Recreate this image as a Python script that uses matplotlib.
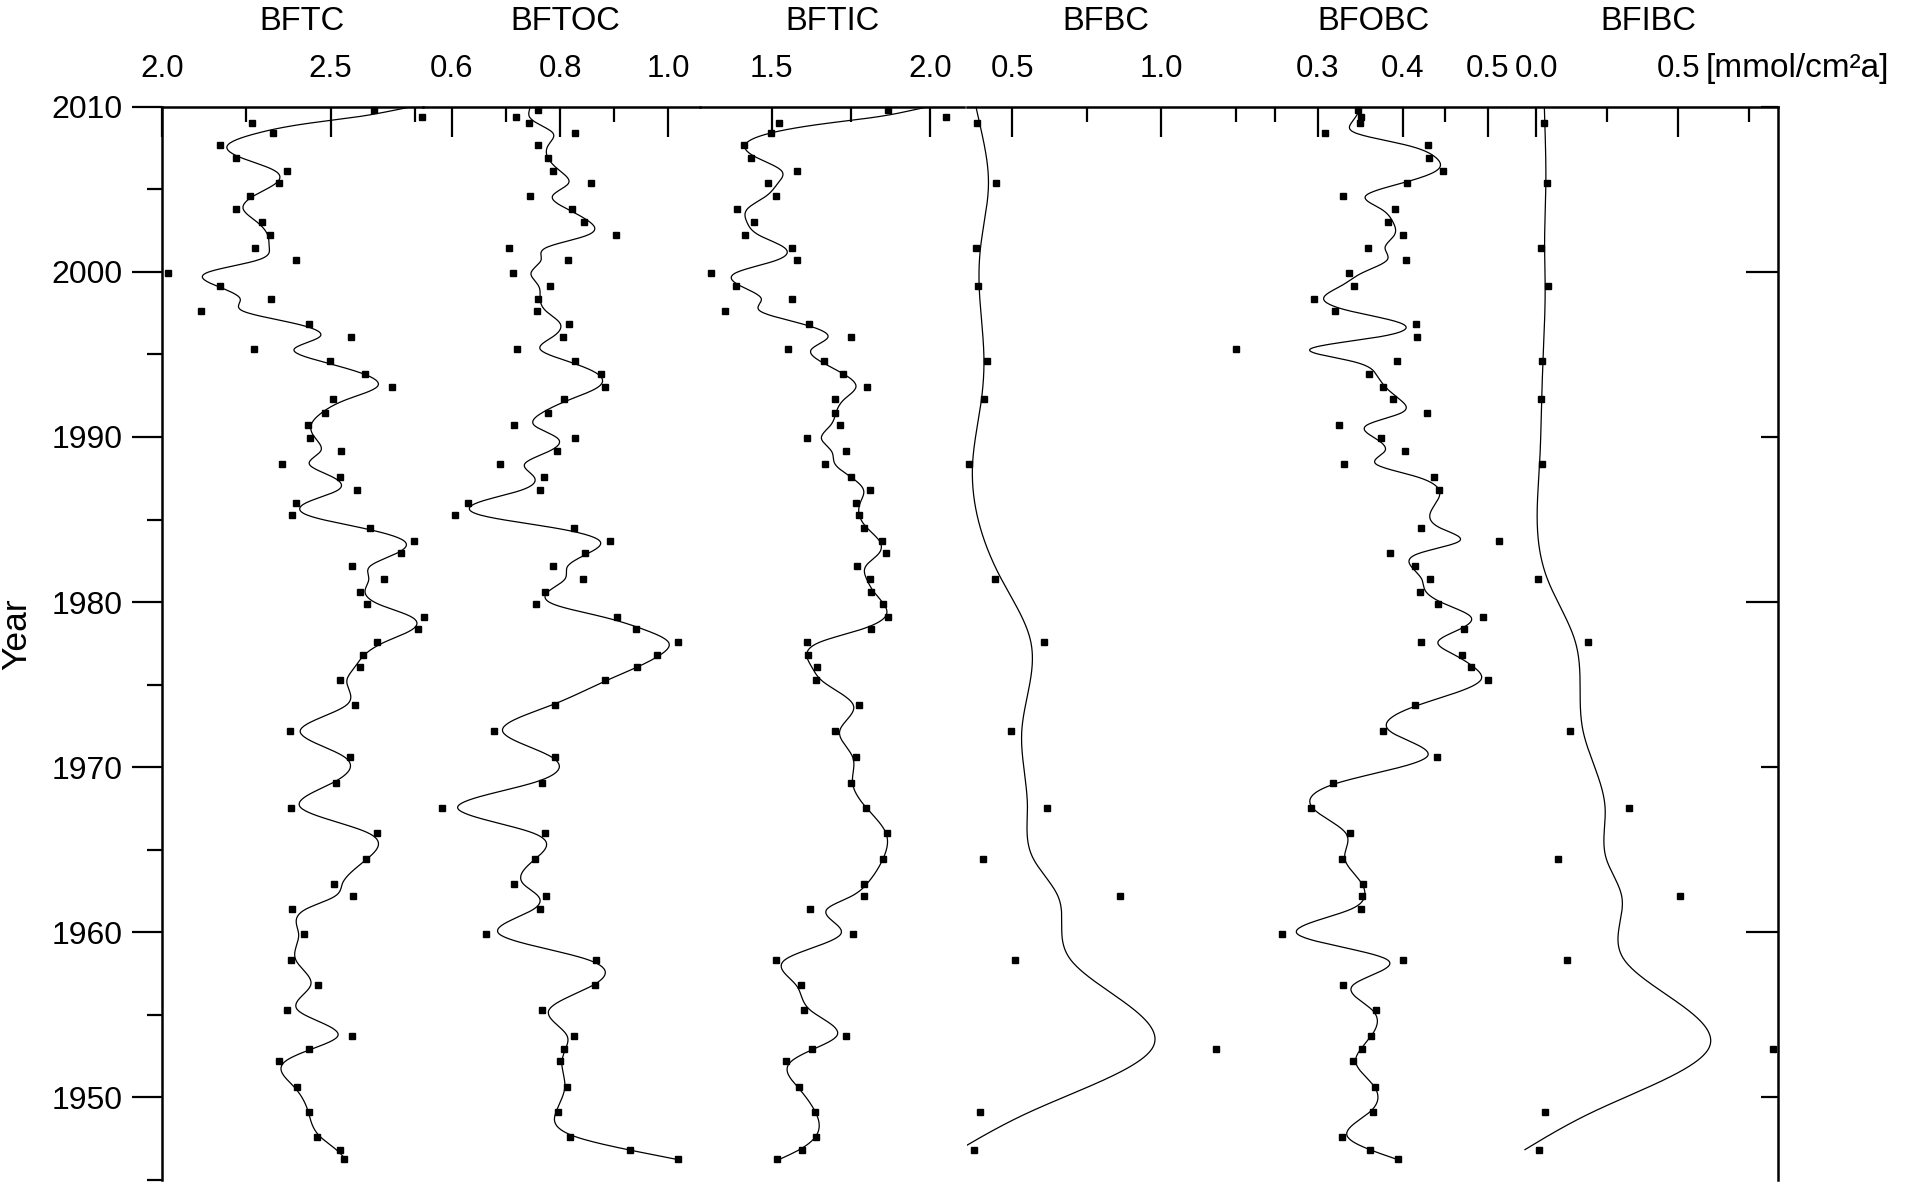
import matplotlib
matplotlib.use("Agg")
import matplotlib.pyplot as plt
import numpy as np
from matplotlib.ticker import MultipleLocator, FuncFormatter

plt.rcParams["font.family"] = ["Liberation Sans", "DejaVu Sans"]

# sample years (common to the dense series)
YEAR = np.array([
    2009.80, 2009.37, 2008.99, 2008.42, 2007.66, 2006.91, 2006.12, 2005.35, 2004.59, 2003.82,
    2003.03, 2002.22, 2001.47, 2000.71, 1999.94, 1999.17, 1998.38, 1997.64, 1996.87, 1996.06,
    1995.31, 1994.59, 1993.80, 1993.01, 1992.27, 1991.47, 1990.71, 1989.92, 1989.13, 1988.36,
    1987.60, 1986.79, 1986.02, 1985.25, 1984.48, 1983.70, 1982.95, 1982.18, 1981.39, 1980.63,
    1979.86, 1979.11, 1978.34, 1977.58, 1976.81, 1976.04, 1975.27, 1973.74, 1972.20, 1970.63,
    1969.07, 1967.55, 1966.00, 1964.47, 1962.94, 1962.17, 1961.41, 1959.88, 1958.35, 1956.82,
    1955.29, 1953.72, 1952.96, 1952.19, 1950.66, 1949.13, 1947.61, 1946.84, 1946.26])

BFTC = np.array([
    2.630, 2.772, 2.268, 2.328, 2.171, 2.218, 2.371, 2.346, 2.261, 2.218,
    2.296, 2.321, 2.275, 2.397, 2.017, 2.171, 2.324, 2.115, 2.436, 2.560,
    2.273, 2.497, 2.602, 2.683, 2.508, 2.483, 2.434, 2.440, 2.532, 2.357,
    2.527, 2.577, 2.397, 2.385, 2.618, 2.747, 2.710, 2.562, 2.658, 2.588,
    2.607, 2.776, 2.759, 2.637, 2.597, 2.586, 2.529, 2.572, 2.379, 2.558,
    2.517, 2.382, 2.637, 2.606, 2.509, 2.566, 2.386, 2.420, 2.383, 2.462,
    2.371, 2.564, 2.436, 2.346, 2.399, 2.436, 2.459, 2.529, 2.540])

BFTOC = np.array([
    0.760, 0.719, 0.742, 0.828, 0.760, 0.777, 0.787, 0.857, 0.745, 0.822,
    0.845, 0.904, 0.705, 0.814, 0.713, 0.781, 0.760, 0.758, 0.816, 0.805,
    0.721, 0.828, 0.875, 0.883, 0.807, 0.778, 0.715, 0.828, 0.795, 0.689,
    0.770, 0.763, 0.630, 0.607, 0.826, 0.893, 0.846, 0.787, 0.842, 0.772,
    0.756, 0.906, 0.941, 1.017, 0.979, 0.942, 0.883, 0.791, 0.679, 0.791,
    0.767, 0.582, 0.772, 0.753, 0.715, 0.774, 0.763, 0.664, 0.867, 0.865,
    0.767, 0.825, 0.807, 0.800, 0.812, 0.796, 0.818, 0.929, 1.017])

BFTIC = np.array([
    1.868, 2.049, 1.524, 1.499, 1.413, 1.436, 1.579, 1.488, 1.513, 1.392,
    1.444, 1.417, 1.565, 1.579, 1.308, 1.389, 1.563, 1.354, 1.619, 1.750,
    1.551, 1.665, 1.725, 1.799, 1.701, 1.700, 1.715, 1.610, 1.735, 1.667,
    1.751, 1.811, 1.767, 1.775, 1.792, 1.847, 1.860, 1.768, 1.811, 1.814,
    1.851, 1.867, 1.813, 1.610, 1.614, 1.643, 1.640, 1.776, 1.699, 1.765,
    1.750, 1.797, 1.864, 1.850, 1.792, 1.790, 1.622, 1.757, 1.513, 1.594,
    1.603, 1.735, 1.628, 1.546, 1.586, 1.636, 1.639, 1.596, 1.518])

BFOBC = np.array([
    0.347, 0.351, 0.350, 0.309, 0.430, 0.431, 0.448, 0.405, 0.330, 0.391,
    0.383, 0.401, 0.359, 0.404, 0.337, 0.343, 0.296, 0.320, 0.416, 0.417,
    0.204, 0.393, 0.360, 0.377, 0.389, 0.429, 0.325, 0.374, 0.403, 0.331,
    0.437, 0.443, np.nan, np.nan, 0.422, 0.513, 0.385, 0.414, 0.432, 0.421,
    0.442, 0.495, 0.472, 0.422, 0.470, 0.480, 0.500, 0.415, 0.377, 0.441,
    0.318, 0.292, 0.338, 0.328, 0.353, 0.352, 0.351, 0.258, 0.400, 0.330,
    0.369, 0.363, 0.352, 0.341, 0.368, 0.365, 0.329, 0.362, 0.395])

# black carbon series were measured on fewer samples
BC_YEAR = np.array([2008.99, 2005.35, 2001.47, 1999.17, 1994.59, 1992.27, 1988.36, 1981.39, 1977.58,
                    1972.20, 1967.55, 1964.47, 1962.17, 1958.35, 1952.96, 1949.13, 1946.84])
BFBC = np.array([0.382, 0.445, 0.378, 0.385, 0.415, 0.406, 0.357, 0.442, 0.606,
                 0.497, 0.618, 0.403, 0.860, 0.509, 1.184, 0.394, 0.373])
BFIBC = np.array([0.029, 0.040, 0.019, 0.041, 0.022, 0.018, 0.021, 0.007, 0.184,
                  0.121, 0.326, 0.078, 0.507, 0.110, 0.834, 0.031, 0.010])

W, H = 1905, 1185
TOP, BOT = 106.7, 1180.0


def smooth(t, v, lam, top=2010.0, step=0.05):
    # penalised (smoothing-spline like) fit of v(t) on a fine year grid
    m = ~np.isnan(v)
    t, v = t[m], v[m]
    grid = np.arange(t.min(), top + step / 2, step)
    n = len(grid)
    idx = np.clip(((t - grid[0]) / step).astype(int), 0, n - 2)
    fr = (t - grid[idx]) / step
    B = np.zeros((len(t), n))
    B[np.arange(len(t)), idx] = 1 - fr
    B[np.arange(len(t)), idx + 1] = fr
    D = np.diff(np.eye(n), 2, axis=0)
    A = B.T @ B + lam / step ** 3 * (D.T @ D)
    return grid, np.linalg.solve(A, B.T @ v)


fmt1 = FuncFormatter(lambda v, p: f"{v:.1f}".replace("-0.0", "0.0"))

# name, years, values, left px, right px, xlim, major, minor, smoothing
panels = [
    ("BFTC", YEAR, BFTC, 162, 423, (2.0, 2.774), 0.5, 0.25, 0.06),
    ("BFTOC", YEAR, BFTOC, 423, 700, (0.547, 1.0585), 0.2, 0.1, 0.06),
    ("BFTIC", YEAR, BFTIC, 700, 964.5, (1.274, 2.108), 0.5, 0.25, 0.06),
    ("BFBC", BC_YEAR, BFBC, 966.5, 1237, (0.3476, 1.253), 0.5, 0.25, 5.0),
    ("BFOBC", YEAR, BFOBC, 1239, 1505, (0.2072, 0.5206), 0.1, 0.05, 0.05),
    ("BFIBC", BC_YEAR, BFIBC, 1507, 1778.4, (-0.1025, 0.8535), 0.5, 0.25, 5.0),
]
title_x = [302, 565, 832, 1106, 1374, 1648]

fig = plt.figure(figsize=(W / 100, H / 100), dpi=100)
for i, (name, yrs, vals, l, r, xl, maj, mnr, lam) in enumerate(panels):
    ax = fig.add_axes([l / W, 1 - BOT / H, (r - l) / W, (BOT - TOP) / H])
    ax.set_xlim(*xl)
    ax.set_ylim(1945, 2010)
    for s in ["bottom", "left", "right"]:
        ax.spines[s].set_visible(False)
    ax.spines["top"].set_linewidth(1.8)
    ax.xaxis.tick_top()
    ax.xaxis.set_major_locator(MultipleLocator(maj))
    ax.xaxis.set_minor_locator(MultipleLocator(mnr))
    ax.xaxis.set_major_formatter(fmt1)
    ax.tick_params(axis="x", which="major", direction="in", length=21.6, width=1.6,
                   labelsize=22.5, pad=16)
    ax.tick_params(axis="x", which="minor", direction="in", length=10.8, width=1.6)
    if i == 0:
        ax.spines["left"].set_visible(True)
        ax.spines["left"].set_linewidth(1.8)
        ax.yaxis.set_major_locator(MultipleLocator(10))
        ax.yaxis.set_minor_locator(MultipleLocator(5))
        ax.yaxis.set_major_formatter(FuncFormatter(lambda v, p: f"{v:.0f}"))
        ax.tick_params(axis="y", which="major", direction="out", length=21.6, width=1.6,
                       labelsize=23, pad=6.6)
        ax.tick_params(axis="y", which="minor", direction="out", length=10.8, width=1.6)
    elif i == len(panels) - 1:
        ax.spines["right"].set_visible(True)
        ax.spines["right"].set_linewidth(1.8)
        ax.yaxis.tick_right()
        ax.yaxis.set_major_locator(MultipleLocator(20))
        ax.yaxis.set_minor_locator(MultipleLocator(10))
        ax.tick_params(axis="y", which="major", direction="in", length=23, width=1.6,
                       labelright=False)
        ax.tick_params(axis="y", which="minor", direction="in", length=12, width=1.6)
    else:
        ax.tick_params(axis="y", which="both", left=False, labelleft=False)
    ax.patch.set_visible(False)

    gy, gf = smooth(yrs, vals, lam)
    ax.plot(gf, gy, color="black", lw=0.9)
    ax.plot(vals, yrs, "s", ms=4.7, color="black", clip_on=False)

    fig.text(title_x[i] / W, 1 - 21.7 / H, name, ha="center", va="center", fontsize=23.5)

fig.text(1706 / W, 1 - 77 / H, "[mmol/cm²a]", ha="left", va="baseline", fontsize=24)
fig.text(16.7 / W, 1 - 634 / H, "Year", rotation=90, ha="center", va="center", fontsize=25.5)

fig.savefig("out.png", dpi=100, facecolor="white")
